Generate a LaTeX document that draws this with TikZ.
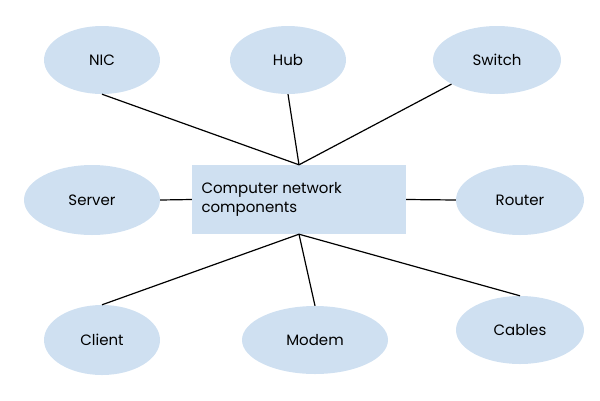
\documentclass[tikz,border=0pt]{standalone}
\usepackage{fontspec}
\setmainfont{Poppins}
\usetikzlibrary{shapes.geometric}
\definecolor{nodefill}{HTML}{CFE0F1}
\begin{document}
\begin{tikzpicture}[x=1pt,y=-1pt,
  el/.style={ellipse,fill=nodefill,inner sep=0pt,font=\fontsize{15}{17}\selectfont},
  ln/.style={line width=1.2pt}]
\useasboundingbox (0,0) rectangle (600,400);
\node[fill=nodefill,minimum width=214pt,minimum height=69pt,inner sep=0pt] (c) at (299,199.5) {};
\node[anchor=west,align=left,font=\fontsize{15}{19}\selectfont] (ct) at (198,199.5) {Computer network\\components};
\node[el,minimum width=116pt,minimum height=68pt] (nic) at (102,60) {NIC};
\node[el,minimum width=116pt,minimum height=68pt] (hub) at (288,60) {Hub};
\node[el,minimum width=128pt,minimum height=68pt] (sw) at (497,60) {Switch};
\node[el,minimum width=136pt,minimum height=70pt] (srv) at (92,200) {Server};
\node[el,minimum width=128pt,minimum height=70pt] (rt) at (520,200) {Router};
\node[el,minimum width=116pt,minimum height=70pt] (cl) at (102,340) {Client};
\node[el,minimum width=146pt,minimum height=68pt] (mo) at (315,340) {Modem};
\node[el,minimum width=128pt,minimum height=68pt] (ca) at (520,330) {Cables};
\draw[ln] (c.north) -- (nic.south);
\draw[ln] (c.north) -- (hub.south);
\draw[ln] (c.north) -- (sw);
\draw[ln] (c.south) -- (cl.north);
\draw[ln] (c.south) -- (mo.north);
\draw[ln] (c.south) -- (ca.north);
\draw[ln] (srv.east) -- (c.west);
\draw[ln] (c.east) -- (rt.west);
\end{tikzpicture}
\end{document}
